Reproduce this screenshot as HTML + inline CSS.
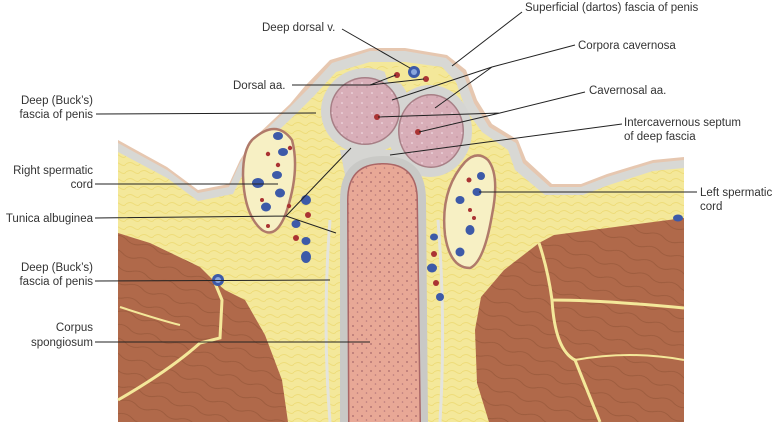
<!DOCTYPE html>
<html><head><meta charset="utf-8"><style>
html,body{margin:0;padding:0;background:#fff;}
svg{display:block;}
text{font-family:"Liberation Sans",sans-serif;font-size:11.5px;fill:#333;}
</style></head><body>
<svg width="775" height="422" viewBox="0 0 775 422" xmlns="http://www.w3.org/2000/svg">
<defs>
<pattern id="dots" width="9" height="9" patternUnits="userSpaceOnUse">
<circle cx="2" cy="2" r="0.9" fill="#a8686a"/><circle cx="6.5" cy="6" r="0.8" fill="#b77a7c"/>
</pattern>
<pattern id="dots2" width="10" height="10" patternUnits="userSpaceOnUse">
<circle cx="2" cy="3" r="0.8" fill="#f3e4ea"/><circle cx="7" cy="7" r="0.8" fill="#b98a98"/>
</pattern>
<pattern id="fat" width="14" height="8" patternUnits="userSpaceOnUse">
<path d="M0 4 Q4 1 8 4 T14 4" stroke="#eedc7a" stroke-width="1" fill="none"/>
</pattern>
<pattern id="mus" width="30" height="14" patternUnits="userSpaceOnUse" patternTransform="rotate(18)">
<path d="M0 7 Q8 3 15 7 T30 7" stroke="#9a5a3c" stroke-width="0.8" fill="none"/>
</pattern>
</defs>

<!-- skin outer tan -->
<path d="M118 140 L167 167 L198 190 L229 184 L240 160 L255 137 L290 104 L305 86 L330 60 L370 48 L405 48 L447 55 L466 70 L477 100 L492 124 L518 140 L526 160 L552 184 L581 184 L607 174 L653 160 L684 157 L684 422 L118 422 Z" fill="#e6c7b0"/>
<!-- gray fascia -->
<path d="M118 143 L167 170 L198 193 L229 187 L240 163 L255 140 L290 107 L308 89 L332 63 L370 51 L405 51 L446 58 L463 73 L474 103 L489 127 L516 143 L523 163 L550 187 L581 187 L607 177 L653 163 L684 160 L684 422 L118 422 Z" fill="#d8d8d4"/>
<!-- yellow fat -->
<path d="M118 152 L167 178 L198 201 L233 194 L246 168 L262 146 L296 114 L314 96 L336 72 L370 62 L405 62 L442 67 L456 82 L466 110 L482 132 L508 150 L515 170 L545 195 L583 195 L609 185 L653 171 L684 168 L684 422 L118 422 Z" fill="#f4e89a"/>
<path d="M118 152 L167 178 L198 201 L233 194 L246 168 L262 146 L296 114 L314 96 L336 72 L370 62 L405 62 L442 67 L456 82 L466 110 L482 132 L508 150 L515 170 L545 195 L583 195 L609 185 L653 171 L684 168 L684 422 L118 422 Z" fill="url(#fat)"/>

<!-- gray envelope around cavernosa -->
<ellipse cx="366" cy="111" rx="45" ry="43" fill="#d5d5d2"/>
<ellipse cx="430" cy="131" rx="42" ry="46" fill="#d5d5d2"/>
<path d="M340 150 L450 150 L440 175 L345 175 Z" fill="#d5d5d2"/>
<!-- corpora cavernosa -->
<ellipse cx="365" cy="111" rx="35" ry="34" fill="#a77f86"/>
<ellipse cx="365" cy="111" rx="33.5" ry="32.5" fill="#d8aeb8"/>
<ellipse cx="365" cy="111" rx="33.5" ry="32.5" fill="url(#dots2)"/>
<ellipse cx="431" cy="131" rx="33" ry="37" fill="#a77f86"/>
<ellipse cx="431" cy="131" rx="31.5" ry="35.5" fill="#d8aeb8"/>
<ellipse cx="431" cy="131" rx="31.5" ry="35.5" fill="url(#dots2)"/>
<circle cx="377" cy="117" r="3" fill="#a33"/><circle cx="418" cy="132" r="3" fill="#a33"/>
<!-- dorsal vessels -->
<path d="M384 70 Q410 62 440 70 L436 82 Q410 86 388 82 Z" fill="#f4e89a"/>
<circle cx="414" cy="72" r="6" fill="#3d5aa8"/><circle cx="414" cy="72" r="3" fill="#8aa6dd"/>
<circle cx="397" cy="75" r="3" fill="#a33"/><circle cx="426" cy="79" r="3" fill="#a33"/>

<!-- corpus spongiosum -->
<path d="M340 422 L340 200 Q340 156 383 156 Q426 156 426 200 L428 422 Z" fill="#c9c9c6"/>
<path d="M348 422 L347 200 Q347 163 383 163 Q418 163 418 200 L421 422 Z" fill="#a66"/>
<path d="M349.5 422 L348.5 200 Q348.5 164.5 383 164.5 Q416.5 164.5 416.5 200 L419.5 422 Z" fill="#e8a896"/>
<path d="M349.5 422 L348.5 200 Q348.5 164.5 383 164.5 Q416.5 164.5 416.5 200 L419.5 422 Z" fill="url(#dots)"/>
<path d="M330 220 Q322 320 330 422" stroke="#e4e4dc" stroke-width="3" fill="none"/>
<path d="M438 220 Q446 320 440 422" stroke="#e4e4dc" stroke-width="3" fill="none"/>

<!-- left muscle -->
<path d="M118 233 L150 243 L200 267 L213 280 L225 290 L245 300 L265 335 L282 380 L288 422 L118 422 Z" fill="#b0694a"/>
<path d="M118 233 L150 243 L200 267 L213 280 L225 290 L245 300 L265 335 L282 380 L288 422 L118 422 Z" fill="url(#mus)"/>
<path d="M118 400 Q170 370 200 343 L220 338 L222 300 L215 283" stroke="#f4e89a" stroke-width="3" fill="none"/>
<path d="M120 307 Q160 320 180 325" stroke="#f4e89a" stroke-width="2" fill="none"/>
<!-- right muscle -->
<path d="M684 218 L554 235 L539 243 L504 270 L481 297 L475 330 L477 383 L489 422 L684 422 Z" fill="#b0694a"/>
<path d="M684 218 L554 235 L539 243 L504 270 L481 297 L475 330 L477 383 L489 422 L684 422 Z" fill="url(#mus)"/>
<path d="M539 243 Q548 270 552 300 Q600 300 684 308" stroke="#f4e89a" stroke-width="3" fill="none"/>
<path d="M552 300 Q555 350 575 360 L600 422" stroke="#f4e89a" stroke-width="3" fill="none"/>
<path d="M575 360 Q630 350 684 360" stroke="#f4e89a" stroke-width="2" fill="none"/>
<circle cx="218" cy="280" r="6" fill="#3d5aa8"/><circle cx="218" cy="280" r="3" fill="#8aa6dd"/>

<!-- left spermatic cord -->
<path d="M252 140 Q276 118 292 140 Q300 170 287 210 Q277 240 262 230 Q244 215 243 175 Q243 150 252 140 Z" fill="#f7f0c4" stroke="#b07a6a" stroke-width="2.5"/>
<!-- right spermatic cord -->
<path d="M465 162 Q477 150 488 160 Q500 175 492 215 Q484 262 470 268 Q450 268 445 235 Q440 190 465 162 Z" fill="#f7f0c4" stroke="#b07a6a" stroke-width="2.5"/>
<g fill="#3d5aa8">
<ellipse cx="278" cy="136" rx="5" ry="4"/><ellipse cx="283" cy="152" rx="5" ry="4"/><ellipse cx="258" cy="183" rx="6" ry="5"/><ellipse cx="280" cy="193" rx="5" ry="4.5"/><ellipse cx="277" cy="175" rx="5" ry="4"/><ellipse cx="266" cy="207" rx="5" ry="4.5"/>
<ellipse cx="296" cy="224" rx="4.5" ry="4"/><ellipse cx="306" cy="200" rx="5" ry="5"/><ellipse cx="306" cy="241" rx="4.5" ry="4"/><ellipse cx="306" cy="257" rx="5" ry="6"/>
<ellipse cx="481" cy="176" rx="4" ry="4"/><ellipse cx="460" cy="200" rx="4.5" ry="4"/><ellipse cx="477" cy="192" rx="4.5" ry="4"/><ellipse cx="470" cy="230" rx="4.5" ry="5"/><ellipse cx="460" cy="252" rx="4.5" ry="4.5"/>
<ellipse cx="434" cy="237" rx="4" ry="3.5"/><ellipse cx="432" cy="268" rx="5" ry="4.5"/><ellipse cx="440" cy="297" rx="4" ry="4"/><ellipse cx="678" cy="218" rx="5" ry="3.5"/>
</g>
<g fill="#a33">
<circle cx="268" cy="154" r="2.2"/><circle cx="290" cy="148" r="2.2"/><circle cx="278" cy="165" r="2.2"/><circle cx="262" cy="200" r="2"/><circle cx="268" cy="226" r="2"/><circle cx="289" cy="206" r="2.2"/>
<circle cx="308" cy="215" r="3"/><circle cx="296" cy="238" r="3"/><circle cx="469" cy="180" r="2.5"/><circle cx="470" cy="210" r="2"/><circle cx="474" cy="218" r="2"/><circle cx="434" cy="254" r="3"/><circle cx="436" cy="283" r="3"/>
</g>

<!-- leader lines -->
<g stroke="#222" stroke-width="1" fill="none">
<path d="M342 29 L410 68"/>
<path d="M522 12 L452 66"/>
<path d="M575 45 L492 67 L392 100 M492 67 L435 108"/>
<path d="M292 85 L370 85 L396 75 M370 85 L424 79"/>
<path d="M96 114 L316 113"/>
<path d="M585 92 L500 113 L378 117 M500 113 L419 132"/>
<path d="M622 124 L390 155"/>
<path d="M95 184 L278 184"/>
<path d="M95 218 L286 216 L336 233 M286 216 L351 148"/>
<path d="M95 281 L330 280"/>
<path d="M95 342 L370 342"/>
<path d="M697 192 L479 192"/>
</g>

<!-- labels -->
<text x="262" y="31">Deep dorsal v.</text>
<text x="525" y="11">Superficial (dartos) fascia of penis</text>
<text x="578" y="49">Corpora cavernosa</text>
<text x="233" y="89">Dorsal aa.</text>
<text x="93" y="104" text-anchor="end">Deep (Buck’s)</text>
<text x="93" y="118" text-anchor="end">fascia of penis</text>
<text x="589" y="94">Cavernosal aa.</text>
<text x="624" y="126">Intercavernous septum</text>
<text x="624" y="140">of deep fascia</text>
<text x="93" y="174" text-anchor="end">Right spermatic</text>
<text x="93" y="188" text-anchor="end">cord</text>
<text x="93" y="222" text-anchor="end">Tunica albuginea</text>
<text x="93" y="271" text-anchor="end">Deep (Buck’s)</text>
<text x="93" y="285" text-anchor="end">fascia of penis</text>
<text x="93" y="331" text-anchor="end">Corpus</text>
<text x="93" y="346" text-anchor="end">spongiosum</text>
<text x="700" y="196">Left spermatic</text>
<text x="700" y="210">cord</text>
</svg>
</body></html>
